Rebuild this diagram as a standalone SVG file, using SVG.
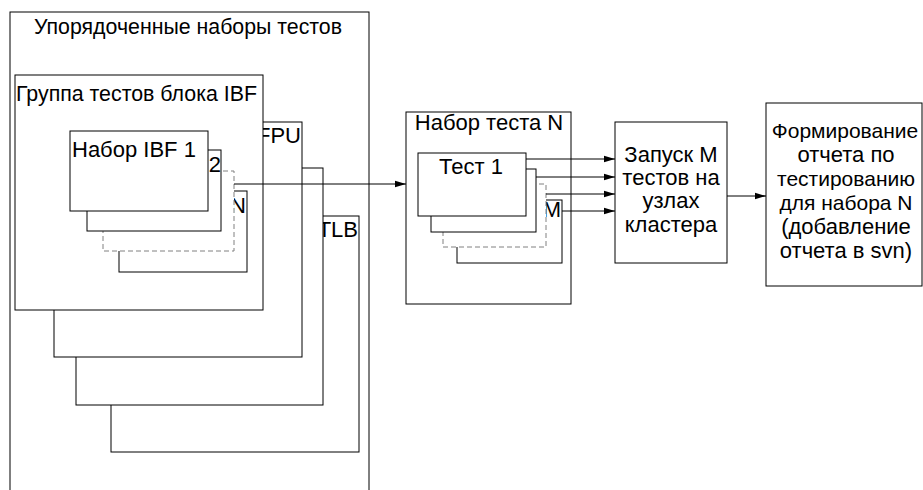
<svg xmlns="http://www.w3.org/2000/svg" width="923" height="490" viewBox="0 0 923 490">
<defs>
<style>
.b{fill:#fff;stroke:#000;stroke-width:1}
.d{fill:#fff;stroke:#808080;stroke-width:1;stroke-dasharray:5,3}
.t{font-family:"Liberation Sans",Arial,sans-serif;font-size:22px;fill:#000}
.s{font-size:21px}
.c{stroke:#000;stroke-width:1;fill:none;marker-end:url(#ah)}
</style>
<marker id="ah" markerWidth="12" markerHeight="8" refX="11" refY="4" orient="auto" markerUnits="userSpaceOnUse">
<path d="M0,0.8 L11,4 L0,7.2 Z" fill="#000"/>
</marker>
</defs>
<rect width="923" height="490" fill="#fff"/>
<g id="ordered">
<rect class="b" x="10" y="12" width="359" height="490"/>
<text class="t" x="188" y="34" text-anchor="middle" textLength="308" lengthAdjust="spacingAndGlyphs">Упорядоченные наборы тестов</text>
</g>
<g id="tlb">
<rect class="b" x="111" y="216" width="248" height="236"/>
<text class="t" x="358" y="237" text-anchor="end">TLB</text>
</g>
<g id="group3">
<rect class="b" x="76" y="168" width="247" height="237"/>
</g>
<g id="fpu">
<rect class="b" x="54" y="122" width="248" height="235"/>
<text class="t" x="301" y="143" text-anchor="end">FPU</text>
</g>
<g id="ibf">
<rect class="b" x="15" y="75" width="248" height="235"/>
<text class="t" x="16" y="101" textLength="241" lengthAdjust="spacingAndGlyphs">Группа тестов блока IBF</text>
</g>
<g id="ibfN">
<rect class="b" x="119" y="191" width="128" height="81"/>
<text class="t" x="246" y="213" text-anchor="end">N</text>
</g>
<g id="ibfDots">
<rect class="d" x="103" y="171" width="131" height="80"/>
</g>
<g id="ibf2">
<rect class="b" x="87" y="150" width="134" height="81"/>
<text class="t" x="221" y="172" text-anchor="end">2</text>
</g>
<g id="ibf1">
<rect class="b" x="70" y="131" width="138" height="80"/>
<text class="t" x="72" y="157">Набор IBF 1</text>
</g>
<g id="setN">
<rect class="b" x="406" y="112" width="165" height="192"/>
<text class="t" x="489" y="130" text-anchor="middle">Набор теста N</text>
</g>
<g id="testM">
<rect class="b" x="457" y="200" width="105" height="63"/>
<text class="t" x="561" y="217" text-anchor="end">M</text>
</g>
<g id="testDots">
<rect class="d" x="443" y="184" width="103" height="63"/>
</g>
<g id="test2">
<rect class="b" x="431" y="169" width="105" height="63"/>
</g>
<g id="test1">
<rect class="b" x="418" y="153" width="108" height="63"/>
<text class="t" x="471" y="174" text-anchor="middle">Тест 1</text>
</g>
<g id="launch">
<rect class="b" x="615" y="122" width="112" height="141"/>
<text class="t" text-anchor="middle"><tspan x="671" y="162">Запуск М</tspan><tspan x="671" y="185">тестов на</tspan><tspan x="671" y="208">узлах</tspan><tspan x="671" y="232">кластера</tspan></text>
</g>
<g id="report">
<rect class="b" x="766" y="103" width="156" height="183"/>
<text class="t s" x="845" y="138" text-anchor="middle">Формирование</text>
<text class="t" x="846" y="162" text-anchor="middle">отчета по</text>
<text class="t s" x="846" y="186" text-anchor="middle">тестированию</text>
<text class="t s" x="846" y="210" text-anchor="middle">для набора N</text>
<text class="t" x="846" y="234" text-anchor="middle">(добавление</text>
<text class="t" x="846" y="258" text-anchor="middle">отчета в svn)</text>
</g>
<g id="connectors">
<path class="c" d="M234,184 H406"/>
<path class="c" d="M526,159 H615"/>
<path class="c" d="M536,177 H615"/>
<path class="c" d="M546,194 H615"/>
<path class="c" d="M562,211 H615"/>
<path class="c" d="M727,196 H766"/>
</g>
</svg>
